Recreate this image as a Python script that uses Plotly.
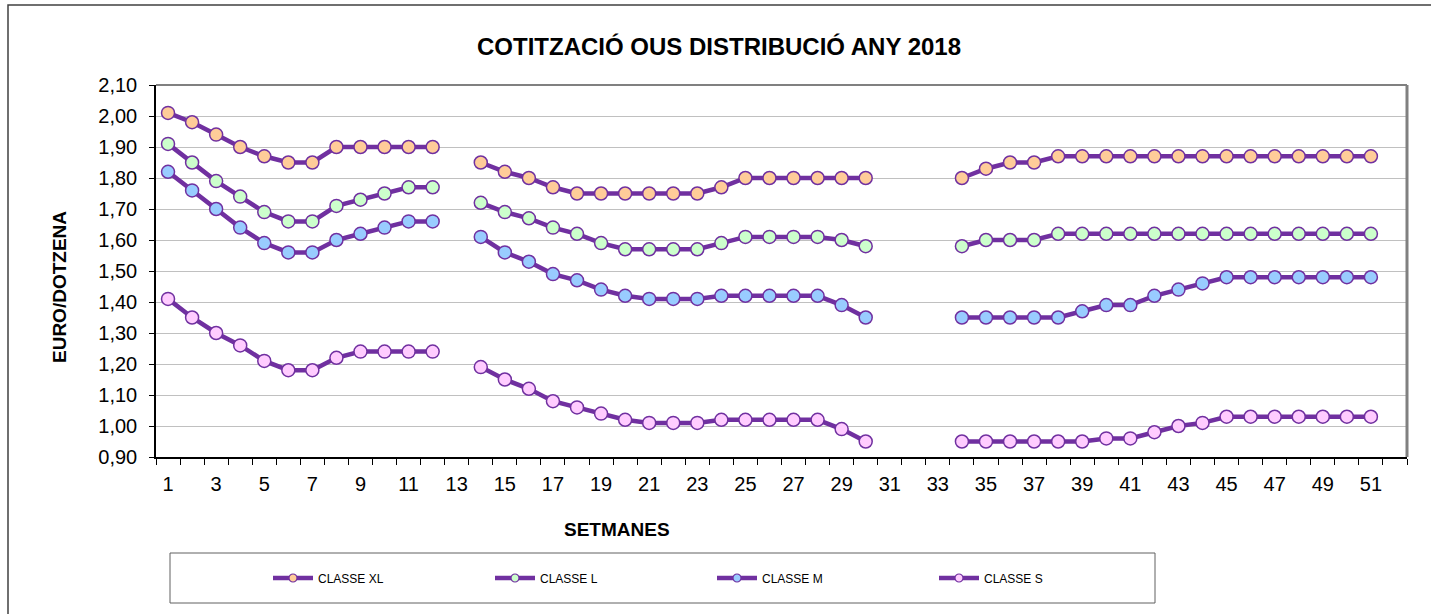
import plotly.graph_objects as go

weeks = list(range(1, 53))

classe_xl = [2.01, 1.98, 1.94, 1.90, 1.87, 1.85, 1.85, 1.90, 1.90, 1.90, 1.90, 1.90, None,
             1.85, 1.82, 1.80, 1.77, 1.75, 1.75, 1.75, 1.75, 1.75, 1.75, 1.77, 1.80, 1.80,
             1.80, 1.80, 1.80, 1.80, None, None, None,
             1.80, 1.83, 1.85, 1.85, 1.87, 1.87, 1.87, 1.87, 1.87, 1.87, 1.87, 1.87, 1.87,
             1.87, 1.87, 1.87, 1.87, 1.87, None]
classe_l = [1.91, 1.85, 1.79, 1.74, 1.69, 1.66, 1.66, 1.71, 1.73, 1.75, 1.77, 1.77, None,
            1.72, 1.69, 1.67, 1.64, 1.62, 1.59, 1.57, 1.57, 1.57, 1.57, 1.59, 1.61, 1.61,
            1.61, 1.61, 1.60, 1.58, None, None, None,
            1.58, 1.60, 1.60, 1.60, 1.62, 1.62, 1.62, 1.62, 1.62, 1.62, 1.62, 1.62, 1.62,
            1.62, 1.62, 1.62, 1.62, 1.62, None]
classe_m = [1.82, 1.76, 1.70, 1.64, 1.59, 1.56, 1.56, 1.60, 1.62, 1.64, 1.66, 1.66, None,
            1.61, 1.56, 1.53, 1.49, 1.47, 1.44, 1.42, 1.41, 1.41, 1.41, 1.42, 1.42, 1.42,
            1.42, 1.42, 1.39, 1.35, None, None, None,
            1.35, 1.35, 1.35, 1.35, 1.35, 1.37, 1.39, 1.39, 1.42, 1.44, 1.46, 1.48, 1.48,
            1.48, 1.48, 1.48, 1.48, 1.48, None]
classe_s = [1.41, 1.35, 1.30, 1.26, 1.21, 1.18, 1.18, 1.22, 1.24, 1.24, 1.24, 1.24, None,
            1.19, 1.15, 1.12, 1.08, 1.06, 1.04, 1.02, 1.01, 1.01, 1.01, 1.02, 1.02, 1.02,
            1.02, 1.02, 0.99, 0.95, None, None, None,
            0.95, 0.95, 0.95, 0.95, 0.95, 0.95, 0.96, 0.96, 0.98, 1.00, 1.01, 1.03, 1.03,
            1.03, 1.03, 1.03, 1.03, 1.03, None]

series_names = ["CLASSE XL", "CLASSE L", "CLASSE M", "CLASSE S"]
series_values = [classe_xl, classe_l, classe_m, classe_s]
fill_colors = ["#FFCC99", "#CCFFCC", "#99CCFF", "#FFCCFF"]
line_color = "#7030A0"

x_tick_vals = list(range(1, 52, 2))
x_tick_text = [str(v) for v in x_tick_vals]

FONT = "Arial, Liberation Sans, sans-serif"

fig = go.Figure()
for name, vals, fc in zip(series_names, series_values, fill_colors):
    fig.add_trace(go.Scatter(
        x=weeks, y=vals, name=name, mode="lines+markers",
        connectgaps=False, showlegend=False, legendgroup=name,
        line=dict(color=line_color, width=4.5),
        marker=dict(symbol="circle", size=13, color=fc,
                    line=dict(color=line_color, width=1.5)),
    ))
# legend entries (smaller markers, as in the reference legend)
for name, fc in zip(series_names, fill_colors):
    fig.add_trace(go.Scatter(
        x=[None], y=[None], name=name, mode="lines+markers",
        showlegend=True, legendgroup=name,
        line=dict(color=line_color, width=4.5),
        marker=dict(symbol="circle", size=8, color=fc,
                    line=dict(color=line_color, width=1.2)),
    ))

W, H = 1431, 614
L, R, T, B = 156, 24, 85, 157
pw = W - L - R
ph = H - T - B


def px2x(px):
    return (px - L) / pw


def px2y(py):
    return (H - B - py) / ph


fig.update_layout(
    width=W, height=H,
    margin=dict(l=L, r=R, t=T, b=B),
    paper_bgcolor="white", plot_bgcolor="white",
    separators=",.",
    font=dict(family=FONT, color="black", size=20),
    showlegend=True,
    legend=dict(
        orientation="h", x=px2x(268), xanchor="left",
        y=px2y(578), yanchor="middle",
        font=dict(family=FONT, size=12, color="black"),
        entrywidth=167, entrywidthmode="pixels",
        itemwidth=40,
        bgcolor="rgba(0,0,0,0)",
    ),
    xaxis=dict(
        range=[0.5, 52.5], tickmode="array", tickvals=x_tick_vals, ticktext=x_tick_text,
        ticks="", showgrid=False, zeroline=False,
        showline=True, linecolor="black", linewidth=1.5,
        ticklabelstandoff=8,
        tickfont=dict(family=FONT, size=20, color="black"),
        minor=dict(tickmode="linear", tick0=0.5, dtick=1, ticks="outside",
                   ticklen=6, tickcolor="black", tickwidth=1, showgrid=False),
    ),
    yaxis=dict(
        range=[0.9, 2.1], tick0=0.9, dtick=0.1, tickformat=".2f",
        showgrid=True, gridcolor="#C0C0C0", gridwidth=1, zeroline=False,
        showline=True, linecolor="black", linewidth=1.5,
        ticks="outside", ticklen=5, tickcolor="black",
        ticklabelstandoff=8,
        tickfont=dict(family=FONT, size=20, color="black"),
    ),
)

# plot area frame (top and right), legend box, outer chart border
fig.add_shape(type="line", xref="paper", yref="paper", x0=0, x1=1, y0=1, y1=1,
              line=dict(color="#808080", width=2))
fig.add_shape(type="line", xref="paper", yref="paper", x0=1, x1=1, y0=0, y1=1,
              line=dict(color="#808080", width=3))
fig.add_shape(type="rect", xref="paper", yref="paper",
              x0=px2x(170), x1=px2x(1155), y0=px2y(603), y1=px2y(553),
              line=dict(color="#606060", width=1), fillcolor="rgba(0,0,0,0)", layer="below")
fig.add_shape(type="rect", xref="paper", yref="paper",
              x0=px2x(8), x1=px2x(1460), y0=px2y(660), y1=px2y(5),
              line=dict(color="#404040", width=1.5), fillcolor="rgba(0,0,0,0)")

fig.add_annotation(text="<b>COTITZACIÓ OUS DISTRIBUCIÓ ANY 2018</b>", xref="paper", yref="paper",
                   x=px2x(719), y=px2y(46), xanchor="center", yanchor="middle",
                   showarrow=False, font=dict(family=FONT, size=24, color="black"))
fig.add_annotation(text="<b>EURO/DOTZENA</b>", xref="paper", yref="paper",
                   x=px2x(59), y=px2y(287), xanchor="center", yanchor="middle", textangle=-90,
                   showarrow=False, font=dict(family=FONT, size=19, color="black"))
fig.add_annotation(text="<b>SETMANES</b>", xref="paper", yref="paper",
                   x=px2x(617), y=px2y(529), xanchor="center", yanchor="middle",
                   showarrow=False, font=dict(family=FONT, size=19, color="black"))

fig.write_html("out.html", config={"displayModeBar": False},
               post_script="document.body.style.margin='0';")
